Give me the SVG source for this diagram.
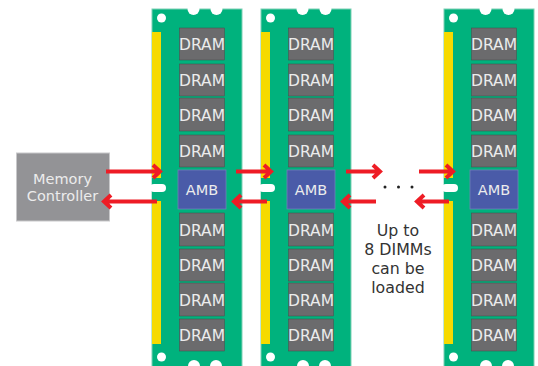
<svg xmlns="http://www.w3.org/2000/svg" width="538" height="366" viewBox="0 0 538 366">
<style>
text{font-family:"DejaVu Sans","Liberation Sans",sans-serif;text-anchor:middle}
.pcb{fill:#00b27d;stroke:#7fd0b5;stroke-width:1}
.y{fill:#f6da00}
.h{fill:#fff}
.d{fill:#6b6b6d;stroke:#4a4a4a;stroke-width:.5}
.dt{fill:#ececec;font-size:15.500px}
.a{fill:#4a5ba8;stroke:#6f80b8;stroke-width:.8}
.at{fill:#ececec;font-size:14.500px}
.l{fill:#333;font-size:15.800px}
.m{fill:#ececec;font-size:14.500px}
.c{fill:none;stroke:#ee1c25;stroke-width:4}
</style>
<defs>
<g id="dimm">
<rect class="pcb" x="152" y="9" width="90" height="358"/>
<rect class="y" x="152" y="32" width="9" height="146"/>
<rect class="y" x="152" y="201" width="9" height="143"/>
<rect x="152" y="178" width="10" height="23" style="fill:#00b27d"/>
<rect class="h" x="150" y="184" width="16" height="8" rx="4"/>
<circle class="h" cx="161.500" cy="18" r="4.500"/>
<circle class="h" cx="193.500" cy="9" r="6"/>
<circle class="h" cx="216.500" cy="9" r="6"/>
<circle class="h" cx="161.500" cy="357" r="4.500"/>
<circle class="h" cx="194" cy="366" r="6"/>
<circle class="h" cx="216" cy="366" r="6"/>
<rect class="d" x="179.500" y="28" width="45" height="32"/><text class="dt" x="202" y="50">DRAM</text>
<rect class="d" x="179.500" y="64" width="45" height="32"/><text class="dt" x="202" y="86">DRAM</text>
<rect class="d" x="179.500" y="98" width="45" height="33"/><text class="dt" x="202" y="120.500">DRAM</text>
<rect class="d" x="179.500" y="135" width="45" height="32"/><text class="dt" x="202" y="156.500">DRAM</text>
<rect class="a" x="178" y="170" width="48" height="39"/><text class="at" x="202" y="195">AMB</text>
<rect class="d" x="179.500" y="213" width="45" height="33"/><text class="dt" x="202" y="235.500">DRAM</text>
<rect class="d" x="179.500" y="249" width="45" height="32"/><text class="dt" x="202" y="270.500">DRAM</text>
<rect class="d" x="179.500" y="283" width="45" height="33"/><text class="dt" x="202" y="305.500">DRAM</text>
<rect class="d" x="179.500" y="319" width="45" height="32"/><text class="dt" x="202" y="341">DRAM</text>
</g>
</defs>
<g id="controller">
<rect x="16.500" y="153" width="93" height="68" fill="#939396" stroke="#c8c8ca" stroke-width="1"/>
<text class="m" x="62.500" y="184">Memory</text>
<text class="m" x="62.500" y="201">Controller</text>
</g>
<g id="dimm1"><use href="#dimm"/></g>
<g id="dimm2"><use href="#dimm" x="109"/></g>
<g id="dimm3"><use href="#dimm" x="292"/></g>
<g id="connectors">
<path class="c" d="M106 171.500H159M153 165l7 6.500-7 6.500"/>
<path class="c" d="M157 201.500H104M111 195l-7 6.500 7 6.500"/>
<path class="c" d="M236 171.500H270M264 165l7 6.500-7 6.500"/>
<path class="c" d="M267 201.500H234M241 195l-7 6.500 7 6.500"/>
<path class="c" d="M346 171.500H379M373 165l7 6.500-7 6.500"/>
<path class="c" d="M376 201.500H343M350 195l-7 6.500 7 6.500"/>
<path class="c" d="M419 171.500H452M446 165l7 6.500-7 6.500"/>
<path class="c" d="M449 201.500H417M424 195l-7 6.500 7 6.500"/>
</g>
<g id="labels">
<circle cx="385" cy="187" r="1.500" fill="#222"/><circle cx="398.500" cy="187" r="1.500" fill="#222"/><circle cx="412" cy="187" r="1.500" fill="#222"/>
<text class="l" x="398" y="236">Up to</text>
<text class="l" x="398" y="255">8 DIMMs</text>
<text class="l" x="398" y="274">can be</text>
<text class="l" x="398" y="293">loaded</text>
</g>
</svg>
